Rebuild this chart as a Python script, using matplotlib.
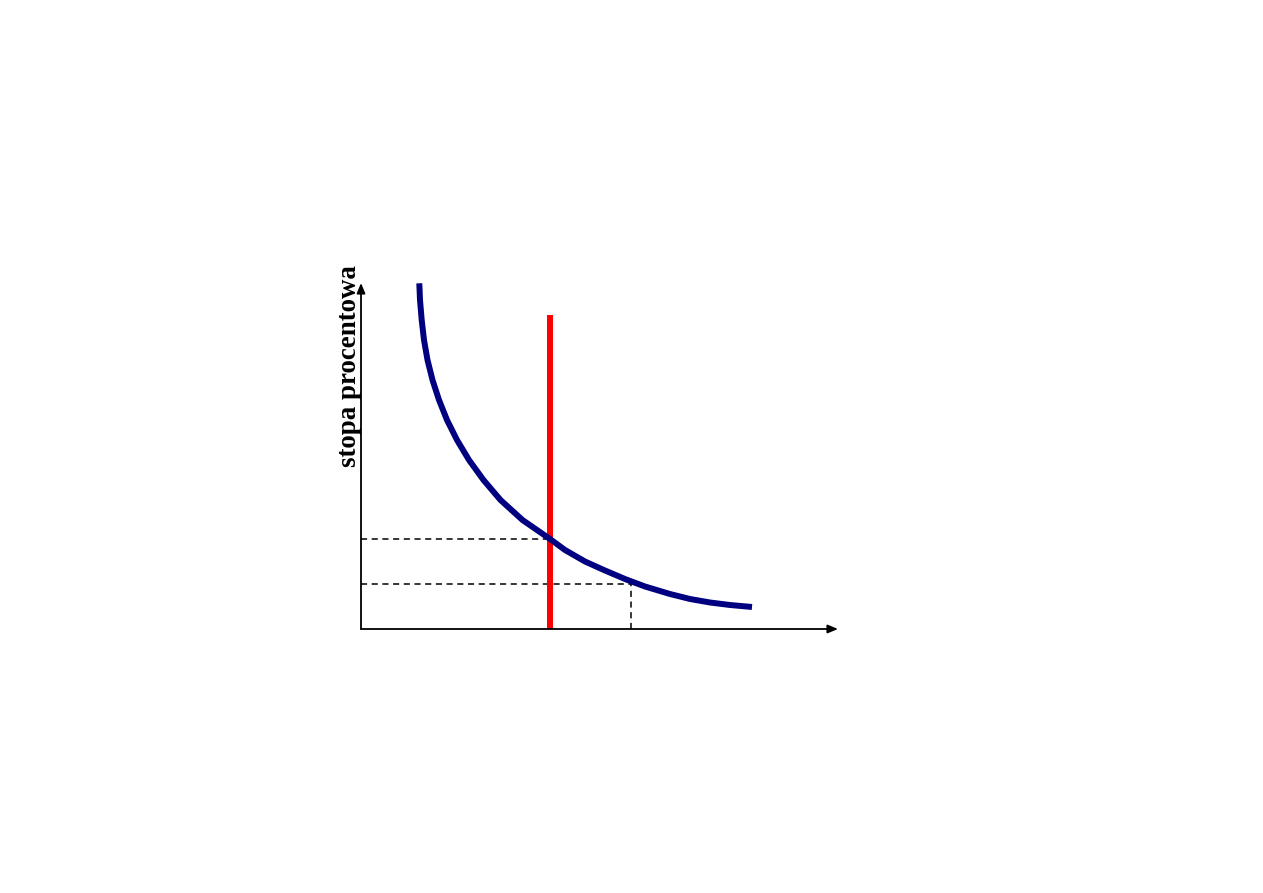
import matplotlib
matplotlib.use("Agg")
import matplotlib.pyplot as plt

# money demand curve (units = px from the origin)
curve_x = [58.3, 59, 60.7, 63, 66.5, 71.5, 78, 86, 96, 108, 122.5, 139.5, 161.5, 189,
           204, 224, 244, 264, 284, 309, 329, 349, 369, 391]
curve_y = [345.7, 329, 309, 289, 269, 249, 229, 209, 189, 169, 149, 129, 109, 90,
           79, 67.5, 58.5, 50, 42.5, 35, 30, 26.5, 24, 22]

# money supply (vertical)
supply_x = 189
supply_top = 314

# dashed guides
rate_high = 90
rate_low = 45
qty_low = 270

ylabel = "stopa procentowa"

W, H = 1263, 893
fig = plt.figure(figsize=(W / 100, H / 100), dpi=100)
ax = fig.add_axes([361 / W, (H - 629) / H, 477 / W, 346 / H])
ax.set_xlim(0, 477)
ax.set_ylim(0, 346)
ax.axis("off")

# axes with arrows
arrow = dict(arrowstyle="-|>,head_length=0.6,head_width=0.25", color="k", lw=1.3,
             shrinkA=0, shrinkB=0)
ax.annotate("", xy=(477, 0), xytext=(0, 0), arrowprops=arrow, annotation_clip=False)
ax.annotate("", xy=(0, 346), xytext=(0, 0), arrowprops=arrow, annotation_clip=False)

# dashed lines
ax.plot([0, supply_x], [rate_high, rate_high], color="k", lw=1.1, dashes=(4, 3))
ax.plot([0, qty_low], [rate_low, rate_low], color="k", lw=1.1, dashes=(4, 3))
ax.plot([qty_low, qty_low], [0, rate_low], color="k", lw=1.1, dashes=(4, 3))

ax.plot([supply_x, supply_x], [0, supply_top], color="#ff0000", lw=4.3, solid_capstyle="butt")
ax.plot(curve_x, curve_y, color="#000080", lw=4.3, solid_capstyle="butt",
        solid_joinstyle="round", clip_on=False)

ax.text(-11, 346 + 18, ylabel, rotation=90, ha="center", va="top",
        fontsize=19.4, fontweight="bold", family="Liberation Serif")

fig.savefig("out.png", dpi=100)
